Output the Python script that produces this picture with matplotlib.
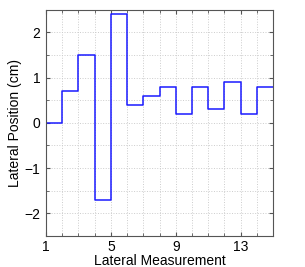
import matplotlib
matplotlib.use("Agg")
import matplotlib.pyplot as plt
from matplotlib.ticker import MultipleLocator, FixedLocator

plt.rcParams['font.family'] = ['Liberation Sans', 'DejaVu Sans']

measurement = [1, 2, 3, 4, 5, 6, 7, 8, 9, 10, 11, 12, 13, 14, 15]
position = [0.0, 0.7, 1.5, -1.7, 2.4, 0.4, 0.6, 0.8, 0.2, 0.8, 0.3, 0.9, 0.2, 0.8, 0.8]
xticks = [1, 5, 9, 13]
yticks = [-2, -1, 0, 1, 2]

fig = plt.figure(figsize=(3.05, 2.67), dpi=100)
ax = fig.add_axes([0.151, 0.116, 0.744, 0.848])
ax.step(measurement, position, where='post', color=(0.1, 0.1, 1.0), lw=1.1)
ax.set_xlim(1, 15)
ax.set_ylim(-2.5, 2.5)
ax.xaxis.set_major_locator(FixedLocator(xticks))
ax.yaxis.set_major_locator(FixedLocator(yticks))
ax.xaxis.set_minor_locator(MultipleLocator(1))
ax.yaxis.set_minor_locator(MultipleLocator(0.5))
ax.grid(True, which='both', color='#cccccc', linestyle=':', linewidth=0.7)
ax.set_axisbelow(True)
ax.tick_params(which='both', direction='in', top=True, right=True, color='#555555', labelsize=10)
ax.tick_params(axis='x', pad=3)
ax.tick_params(axis='y', pad=4)
ax.tick_params(which='major', length=3)
ax.tick_params(which='minor', length=2)
for s in ax.spines.values():
    s.set_color('#555555')
    s.set_linewidth(0.8)
ax.set_xlabel('Lateral Measurement', fontsize=10, labelpad=-0.5)
ax.set_ylabel('Lateral Position (cm)', fontsize=10, labelpad=2)
fig.savefig('out.png', dpi=100)
